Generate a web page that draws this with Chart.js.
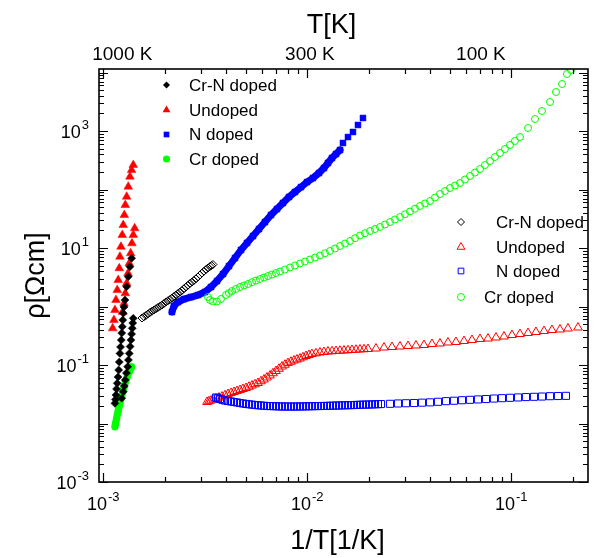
<!DOCTYPE html>
<html>
<head>
<meta charset="utf-8">
<script src="https://cdn.jsdelivr.net/npm/chart.js@4.4.1/dist/chart.umd.min.js"></script>
<style>
  html, body { margin: 0; padding: 0; background: #fff; }
  #wrap { width: 596px; height: 558px; }
</style>
</head>
<body>
<div id="wrap"><canvas id="chart" width="596" height="558"></canvas></div>
<script>
// ---------------------------------------------------------------------------
// Resistivity vs inverse temperature (log-log), four samples, two runs each
// ---------------------------------------------------------------------------

const seriesNames = ['Cr-N doped', 'Undoped', 'N doped', 'Cr doped'];

// Axis ranges and labelled decades
const X_MIN = 9.53e-4, X_MAX = 0.2377;
const Y_MIN = 1e-3, Y_MAX = 1.148e4;
const xTickExps = [-3, -2, -1];
const yTickExps = [-3, -1, 1, 3];
const topTickLabels = ['1000 K', '300 K', '100 K'];

// --- filled markers (high temperature run) ---
const crnFilledX = [1.141e-3, 1.147e-3, 1.154e-3, 1.162e-3, 1.171e-3, 1.181e-3, 1.190e-3, 1.198e-3, 1.207e-3, 1.215e-3,
  1.225e-3, 1.232e-3, 1.239e-3, 1.246e-3, 1.253e-3, 1.264e-3, 1.278e-3, 1.302e-3, 1.326e-3, 1.351e-3, 1.377e-3,
  1.403e-3, 1.395e-3, 1.387e-3, 1.377e-3, 1.367e-3, 1.354e-3, 1.341e-3, 1.329e-3, 1.317e-3, 1.299e-3, 1.282e-3,
  1.268e-3, 1.253e-3, 1.231e-3];
const crnFilledY = [0.0221, 0.0257, 0.0307, 0.0389, 0.0486, 0.0624, 0.0822, 0.1125, 0.158, 0.203,
  0.267, 0.352, 0.452, 0.588, 0.766, 0.981, 1.29, 2.18, 3.23, 4.79, 6.67,
  0.628, 0.522, 0.424, 0.339, 0.267, 0.207, 0.158, 0.1218, 0.0935, 0.0730, 0.0555,
  0.0438, 0.035, 0.027];

const undopedFilledX = [1.112e-3, 1.128e-3, 1.141e-3, 1.154e-3, 1.171e-3, 1.184e-3, 1.198e-3, 1.207e-3, 1.221e-3,
  1.239e-3, 1.253e-3, 1.268e-3, 1.282e-3, 1.302e-3, 1.326e-3, 1.351e-3, 1.377e-3, 1.403e-3,
  1.242e-3, 1.264e-3, 1.282e-3, 1.302e-3, 1.322e-3, 1.341e-3, 1.362e-3, 1.382e-3, 1.403e-3, 1.425e-3];
const undopedFilledY = [0.424, 0.588, 0.871, 1.29, 1.91, 2.84, 4.50, 7.10, 10.5,
  16.7, 24.7, 36.6, 54.3, 75.3, 112, 166, 215, 262,
  0.805, 1.13, 1.68, 2.49, 3.70, 5.47, 8.11, 12.0, 16.7, 21.7];

const nFilledX = [2.172e-3, 2.221e-3, 2.323e-3, 2.486e-3, 2.691e-3, 2.912e-3, 3.151e-3, 3.373e-3, 3.610e-3, 3.863e-3,
  4.134e-3, 4.423e-3, 4.732e-3, 5.063e-3, 5.418e-3, 5.797e-3, 6.203e-3, 6.638e-3, 7.103e-3, 7.600e-3,
  8.132e-3, 8.702e-3, 9.313e-3, 9.965e-3, 1.066e-2, 1.141e-2, 1.207e-2, 1.263e-2, 1.321e-2, 1.383e-2,
  1.447e-2, 1.496e-2, 1.583e-2, 1.675e-2, 1.772e-2, 1.875e-2];
const nFilledY = [0.805, 1.02, 1.19, 1.34, 1.45, 1.57, 1.77, 2.15, 2.73, 3.59,
  4.92, 6.75, 9.25, 12.2, 16.0, 21.1, 27.8, 36.6, 46.4, 58.8,
  74.5, 90.6, 110, 134, 157, 191, 233, 284, 345, 404,
  473, 624, 789, 962, 1268, 1667];

const crFilledX = [1.141e-3, 1.147e-3, 1.154e-3, 1.162e-3, 1.171e-3, 1.181e-3, 1.190e-3, 1.198e-3, 1.207e-3, 1.218e-3,
  1.231e-3, 1.242e-3, 1.253e-3, 1.266e-3, 1.278e-3, 1.289e-3, 1.302e-3, 1.314e-3, 1.326e-3, 1.340e-3,
  1.351e-3, 1.364e-3, 1.377e-3];
const crFilledY = [0.00881, 0.0098, 0.01074, 0.01218, 0.01396, 0.01604, 0.0182, 0.0203, 0.0221, 0.0252,
  0.0287, 0.0328, 0.0374, 0.0429, 0.0486, 0.0537, 0.0593, 0.0654, 0.0721, 0.0774,
  0.0822, 0.0878, 0.0935];

// --- open markers (low temperature run) ---
const crnOpenX = [1.548e-3, 1.583e-3, 1.619e-3, 1.656e-3, 1.694e-3, 1.733e-3, 1.772e-3, 1.813e-3, 1.854e-3, 1.897e-3,
  1.940e-3, 1.984e-3, 2.029e-3, 2.076e-3, 2.123e-3, 2.171e-3, 2.221e-3, 2.272e-3, 2.324e-3, 2.377e-3,
  2.431e-3, 2.486e-3, 2.543e-3, 2.601e-3, 2.661e-3, 2.722e-3, 2.784e-3, 2.847e-3, 2.912e-3, 2.979e-3,
  3.047e-3, 3.116e-3, 3.187e-3, 3.260e-3, 3.334e-3, 3.391e-3, 3.449e-3];
const crnOpenY = [0.636, 0.668, 0.702, 0.745, 0.790, 0.830, 0.871, 0.915, 0.961, 1.010,
  1.061, 1.126, 1.194, 1.254, 1.317, 1.397, 1.482, 1.572, 1.668, 1.769,
  1.877, 2.011, 2.154, 2.308, 2.474, 2.624, 2.783, 2.981, 3.194, 3.455,
  3.737, 4.005, 4.291, 4.552, 4.829, 5.022, 5.223];

const undopedOpenX = [3.223e-3, 3.297e-3, 3.373e-3, 3.470e-3, 3.569e-3, 3.692e-3, 3.819e-3, 3.951e-3, 4.087e-3, 4.228e-3,
  4.373e-3, 4.524e-3, 4.680e-3, 4.841e-3, 5.007e-3, 5.180e-3, 5.358e-3, 5.543e-3, 5.734e-3, 5.931e-3,
  6.135e-3, 6.347e-3, 6.566e-3, 6.792e-3, 7.025e-3, 7.266e-3, 7.516e-3, 7.775e-3, 8.043e-3, 8.320e-3,
  8.607e-3, 8.903e-3, 9.210e-3, 9.526e-3, 9.853e-3, 1.019e-2, 1.054e-2, 1.103e-2, 1.154e-2, 1.207e-2,
  1.263e-2, 1.322e-2, 1.383e-2, 1.447e-2, 1.513e-2, 1.583e-2, 1.656e-2, 1.733e-2, 1.813e-2, 1.897e-2,
  1.984e-2, 2.172e-2, 2.377e-2, 2.602e-2, 2.847e-2, 3.117e-2, 3.411e-2, 3.734e-2, 4.087e-2, 4.472e-2,
  4.894e-2, 5.357e-2, 5.864e-2, 6.418e-2, 7.024e-2, 7.688e-2, 8.414e-2, 9.210e-2, 0.1008, 0.1103,
  0.1208, 0.1321, 0.1447, 0.1583, 0.1733, 0.1896, 0.2123];
const undopedOpenY = [0.02331, 0.02400, 0.02472, 0.02571, 0.02675, 0.02782, 0.02893, 0.03039, 0.03193, 0.03321,
  0.03455, 0.03593, 0.03737, 0.03887, 0.04043, 0.04247, 0.04462, 0.04688, 0.04925, 0.05276,
  0.05651, 0.06114, 0.06614, 0.07226, 0.07895, 0.08628, 0.09428, 0.1010, 0.1082, 0.1137,
  0.1194, 0.1242, 0.1292, 0.1357, 0.1425, 0.1482, 0.1542, 0.1588, 0.1636, 0.1668,
  0.1701, 0.1718, 0.1735, 0.1752, 0.1770, 0.1787, 0.1805, 0.1823, 0.1841, 0.1859,
  0.1877, 0.1914, 0.1991, 0.2031, 0.2071, 0.2112, 0.2154, 0.2197, 0.2286, 0.2331,
  0.2425, 0.2473, 0.2573, 0.2676, 0.2783, 0.2838, 0.2952, 0.3070, 0.3258, 0.3388,
  0.3524, 0.3665, 0.3812, 0.3964, 0.4043, 0.4205, 0.4375];

const nOpenX = [3.568e-3, 3.650e-3, 3.733e-3, 3.840e-3, 3.950e-3, 4.086e-3, 4.227e-3, 4.372e-3, 4.523e-3, 4.679e-3,
  4.840e-3, 5.007e-3, 5.180e-3, 5.358e-3, 5.542e-3, 5.733e-3, 5.931e-3, 6.135e-3, 6.346e-3, 6.565e-3,
  6.791e-3, 7.025e-3, 7.267e-3, 7.518e-3, 7.777e-3, 8.045e-3, 8.322e-3, 8.608e-3, 8.905e-3, 9.212e-3,
  9.529e-3, 9.856e-3, 1.019e-2, 1.054e-2, 1.091e-2, 1.128e-2, 1.167e-2, 1.207e-2, 1.249e-2, 1.292e-2,
  1.337e-2, 1.383e-2, 1.430e-2, 1.480e-2, 1.530e-2, 1.583e-2, 1.638e-2, 1.694e-2, 1.752e-2, 1.813e-2,
  1.875e-2, 1.940e-2, 2.007e-2, 2.076e-2, 2.147e-2, 2.221e-2, 2.298e-2, 2.543e-2, 2.784e-2, 3.046e-2,
  3.335e-2, 3.650e-2, 3.995e-2, 4.372e-2, 4.785e-2, 5.237e-2, 5.732e-2, 6.273e-2, 6.867e-2, 7.515e-2,
  8.225e-2, 9.002e-2, 9.854e-2, 0.1079, 0.1180, 0.1292, 0.1414, 0.1548, 0.1694, 0.1854];
const nOpenY = [0.0278, 0.0270, 0.0262, 0.0254, 0.0247, 0.0242, 0.0238, 0.0233, 0.0229, 0.0224,
  0.0220, 0.0216, 0.0213, 0.0210, 0.0207, 0.0205, 0.0203, 0.0201, 0.0199, 0.01985,
  0.0198, 0.0197, 0.0196, 0.01955, 0.0195, 0.0195, 0.0195, 0.0195, 0.0195, 0.01955,
  0.0196, 0.01965, 0.0197, 0.01975, 0.0198, 0.01985, 0.0199, 0.01995, 0.0200, 0.0201,
  0.0202, 0.02025, 0.0203, 0.0204, 0.0205, 0.02055, 0.0206, 0.0207, 0.0208, 0.0209,
  0.0210, 0.02105, 0.0211, 0.0212, 0.0213, 0.0214, 0.0215, 0.0217, 0.0220, 0.0222,
  0.0224, 0.0227, 0.0230, 0.0235, 0.0241, 0.0245, 0.0250, 0.0254, 0.0258, 0.0262,
  0.0267, 0.0271, 0.0275, 0.0279, 0.0283, 0.0286, 0.0289, 0.0293, 0.0295, 0.0297];

const crOpenX = [3.259e-3, 3.334e-3, 3.449e-3, 3.610e-3, 3.776e-3, 3.995e-3, 4.13e-3, 4.276e-3, 4.47e-3, 4.680e-3,
  4.90e-3, 5.120e-3, 5.36e-3, 5.605e-3, 5.86e-3, 6.135e-3, 6.42e-3, 6.714e-3, 7.02e-3, 7.348e-3,
  7.77e-3, 8.224e-3, 8.70e-3, 9.210e-3, 9.74e-3, 1.031e-2, 1.091e-2, 1.154e-2, 1.221e-2, 1.292e-2,
  1.367e-2, 1.447e-2, 1.531e-2, 1.620e-2, 1.714e-2, 1.813e-2, 1.918e-2, 2.030e-2, 2.148e-2, 2.272e-2,
  2.404e-2, 2.544e-2, 2.691e-2, 2.847e-2, 3.012e-2, 3.187e-2, 3.372e-2, 3.568e-2, 3.775e-2, 3.995e-2,
  4.227e-2, 4.472e-2, 4.731e-2, 5.006e-2, 5.297e-2, 5.604e-2, 5.929e-2, 6.273e-2, 6.638e-2, 7.024e-2,
  7.431e-2, 7.863e-2, 8.319e-2, 8.802e-2, 9.313e-2, 9.853e-2, 0.1042, 0.1103, 0.1208, 0.1307,
  0.1414, 0.1548, 0.1656, 0.1773, 0.1875, 0.1962];
const crOpenY = [1.453, 1.291, 1.218, 1.218, 1.343, 1.573, 1.70, 1.841, 2.00, 2.154,
  2.29, 2.425, 2.60, 2.782, 2.95, 3.131, 3.32, 3.524, 3.74, 3.965,
  4.29, 4.642, 5.02, 5.433, 5.88, 6.361, 6.88, 7.445, 8.13, 8.888,
  9.81, 10.82, 11.9, 13.17, 14.7, 16.36, 17.9, 19.53, 21.1, 22.86,
  25.2, 27.83, 30.7, 33.88, 37.8, 42.07, 46.9, 52.27, 57.7, 63.60,
  72.9, 83.76, 94.3, 106.1, 117, 129.2, 148, 170.2, 195, 224.1,
  262, 306.9, 359, 420.7, 492, 576.5, 675, 789.8, 1125, 1603,
  2198, 3131, 4642, 6361, 9428, 11030];

// ---------------------------------------------------------------------------

const FONT = '"Liberation Sans", Arial, Helvetica, sans-serif';
const BLACK = '#000000', RED = '#ff0000', BLUE = '#0000ff', GREEN = '#00ff00';
const CLEAR = 'rgba(0,0,0,0)';

const xy = (xs, ys) => xs.map((x, i) => ({ x, y: ys[i] }));

function filledSet(label, xs, ys, style, color, r) {
  return {
    label, data: xy(xs, ys), pointStyle: style, pointRadius: r,
    pointBackgroundColor: color, pointBorderColor: color, pointBorderWidth: 0.5
  };
}

function openSet(label, xs, ys, style, color, r) {
  return {
    label, data: xy(xs, ys), pointStyle: style, pointRadius: r,
    pointBackgroundColor: CLEAR, pointBorderColor: color, pointBorderWidth: 1
  };
}

// decade + minor tick values for the frame
function logTicks(min, max) {
  const out = [];
  for (let e = Math.floor(Math.log10(min)); e <= Math.ceil(Math.log10(max)); e++) {
    for (let m = 1; m <= 9; m++) {
      const v = m * Math.pow(10, e);
      if (v >= min * 0.999 && v <= max * 1.001) out.push({ v, major: m === 1 });
    }
  }
  return out;
}

function drawPow(ctx, exp, x, y, align) {
  const base = '18px ' + FONT, small = '13px ' + FONT;
  ctx.font = base;
  const wb = ctx.measureText('10').width;
  ctx.font = small;
  const we = ctx.measureText(String(exp)).width;
  const total = wb + 1 + we;
  const left = align === 'center' ? x - total / 2 : x - total;
  ctx.textAlign = 'left';
  ctx.textBaseline = 'alphabetic';
  ctx.font = base;
  ctx.fillText('10', left, y);
  ctx.font = small;
  ctx.fillText(String(exp), left + wb + 1, y - 9);
}

function drawMarker(ctx, style, cx, cy, r, color, filled) {
  ctx.beginPath();
  if (style === 'circle') {
    ctx.arc(cx, cy, r, 0, Math.PI * 2);
  } else if (style === 'rect') {
    const s = r * Math.SQRT1_2;
    ctx.rect(cx - s, cy - s, 2 * s, 2 * s);
  } else if (style === 'rectRot') {
    ctx.moveTo(cx, cy - r); ctx.lineTo(cx + r, cy); ctx.lineTo(cx, cy + r); ctx.lineTo(cx - r, cy);
    ctx.closePath();
  } else if (style === 'triangle') {
    const h = r * 1.5, w = r * Math.sqrt(3);
    ctx.moveTo(cx, cy - r); ctx.lineTo(cx + w / 2, cy + h - r); ctx.lineTo(cx - w / 2, cy + h - r);
    ctx.closePath();
  }
  if (filled) { ctx.fillStyle = color; ctx.fill(); }
  else { ctx.strokeStyle = color; ctx.lineWidth = 1; ctx.stroke(); }
}

const frameAndText = {
  id: 'frameAndText',
  afterDatasetsDraw(chart) {
    const { ctx, chartArea: a, scales: { x, y } } = chart;
    ctx.save();

    // inward ticks on all four sides
    ctx.strokeStyle = BLACK;
    ctx.lineWidth = 1.2;
    ctx.beginPath();
    logTicks(X_MIN, X_MAX).forEach(t => {
      const px = Math.round(x.getPixelForValue(t.v)) + 0.5;
      const len = t.major ? 9 : 5;
      ctx.moveTo(px, a.bottom); ctx.lineTo(px, a.bottom - len);
      ctx.moveTo(px, a.top); ctx.lineTo(px, a.top + len);
    });
    logTicks(Y_MIN, Y_MAX).forEach(t => {
      const py = Math.round(y.getPixelForValue(t.v)) + 0.5;
      const len = t.major ? 9 : 5;
      ctx.moveTo(a.left, py); ctx.lineTo(a.left + len, py);
      ctx.moveTo(a.right, py); ctx.lineTo(a.right - len, py);
    });
    ctx.stroke();

    ctx.lineWidth = 1.6;
    ctx.strokeRect(a.left, a.top, a.right - a.left, a.bottom - a.top);

    // tick labels
    ctx.fillStyle = BLACK;
    xTickExps.forEach(e => drawPow(ctx, e, x.getPixelForValue(Math.pow(10, e)), a.bottom + 28, 'center'));
    yTickExps.forEach(e => drawPow(ctx, e, a.left - 10, y.getPixelForValue(Math.pow(10, e)) + 7, 'right'));

    // temperature labels on the top axis
    const topAt = [1.24e-3, 1.03e-2, 7.1e-2];
    ctx.font = '19px ' + FONT;
    ctx.textAlign = 'center';
    ctx.textBaseline = 'alphabetic';
    topTickLabels.forEach((s, i) => ctx.fillText(s, x.getPixelForValue(topAt[i]), a.top - 9));

    // axis titles
    ctx.font = '27px ' + FONT;
    ctx.textBaseline = 'middle';
    const cx = (a.left + a.right) / 2 - 6;
    ctx.fillText('1/T[1/K]', cx, a.bottom + 60);
    ctx.fillText('T[K]', cx - 6, 26);
    ctx.save();
    ctx.translate(37, (a.top + a.bottom) / 2);
    ctx.rotate(-Math.PI / 2);
    ctx.fillText('\u03c1[\u03a9cm]', 0, 0);
    ctx.restore();

    // two legends: filled (left) and open (right)
    const styles = ['rectRot', 'triangle', 'rect', 'circle'];
    const colors = [BLACK, RED, BLUE, GREEN];
    const radii = [3.5, 4.5, 4, 3.5];
    ctx.font = '17px ' + FONT;
    ctx.textAlign = 'left';
    ctx.textBaseline = 'middle';
    const row1 = [16, 41, 65.5, 90];
    seriesNames.forEach((name, i) => {
      const ry = a.top + row1[i];
      drawMarker(ctx, styles[i], a.left + 67.5, ry, radii[i], colors[i], true);
      ctx.fillStyle = BLACK;
      ctx.fillText(name, a.left + 90, ry + 1);
    });
    const row2 = [153, 178, 202, 228];
    const textX2 = [397, 397, 397, 385];
    seriesNames.forEach((name, i) => {
      const ry = a.top + row2[i];
      drawMarker(ctx, styles[i], a.left + 362, ry, radii[i], colors[i], false);
      ctx.fillStyle = BLACK;
      ctx.fillText(name, a.left + textX2[i], ry + 1);
    });

    ctx.restore();
  }
};

const datasets = [
  openSet('N doped (open)', nOpenX, nOpenY, 'rect', BLUE, 5),
  openSet('Undoped (open)', undopedOpenX, undopedOpenY, 'triangle', RED, 5),
  openSet('Cr doped (open)', crOpenX, crOpenY, 'circle', GREEN, 3.5),
  openSet('Cr-N doped (open)', crnOpenX, crnOpenY, 'rectRot', BLACK, 4),
  filledSet('Cr-N doped', crnFilledX, crnFilledY, 'rectRot', BLACK, 4),
  filledSet('Cr doped', crFilledX, crFilledY, 'circle', GREEN, 3.5),
  filledSet('Undoped', undopedFilledX, undopedFilledY, 'triangle', RED, 5),
  filledSet('N doped', nFilledX, nFilledY, 'rect', BLUE, 4.2)
];
// dense high-T runs read as a continuous band in the original
datasets[5].showLine = true;
datasets[5].borderColor = GREEN;
datasets[5].borderWidth = 6;
datasets[7].showLine = true;
datasets[7].borderColor = BLUE;
datasets[7].borderWidth = 7;
datasets[7].segment = { borderColor: c => c.p0DataIndex >= 30 ? CLEAR : BLUE };

new Chart(document.getElementById('chart'), {
  type: 'scatter',
  data: { datasets },
  options: {
    responsive: false,
    animation: false,
    events: [],
    layout: { padding: { left: 99, right: 8, top: 69, bottom: 76 } },
    elements: { line: { tension: 0, borderCapStyle: 'round', borderJoinStyle: 'round' } },
    plugins: { legend: { display: false }, tooltip: { enabled: false } },
    scales: {
      x: { type: 'logarithmic', min: X_MIN, max: X_MAX, display: false },
      y: { type: 'logarithmic', min: Y_MIN, max: Y_MAX, display: false }
    }
  },
  plugins: [frameAndText]
});
</script>
</body>
</html>
